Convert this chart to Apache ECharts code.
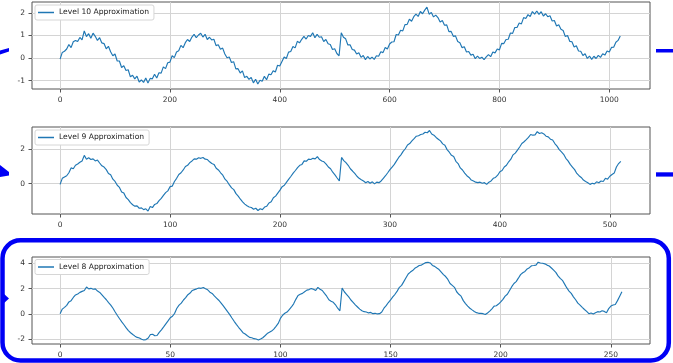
<!DOCTYPE html>
<html>
<head>
<meta charset="utf-8">
<script src="https://cdn.jsdelivr.net/npm/echarts@6/dist/echarts.min.js"></script>
<style>
  html, body { margin: 0; padding: 0; background: #fff; }
  #chart { width: 673px; height: 363px; }
</style>
</head>
<body>
<div id="chart"></div>
<script>
// approximation values (level 10 every 4th sample, level 9 every 2nd, level 8 every sample)
const level10 = [
  -0.05,0.25,0.30,0.40,0.60,0.46,0.72,0.78,0.73,0.91,0.80,1.20,0.95,1.08,0.88,1.10,0.96,0.78,0.90,0.67,
  0.64,0.41,0.52,0.28,0.10,0.18,-0.13,-0.13,-0.42,-0.34,-0.55,-0.52,-0.83,-0.76,-0.92,-0.80,-1.06,-0.97,-1.08,-0.88,
  -1.11,-0.90,-0.92,-0.72,-0.88,-0.65,-0.67,-0.39,-0.47,-0.21,-0.18,0.10,0.02,0.27,0.32,0.56,0.46,0.68,0.82,0.73,
  0.93,1.05,0.90,1.02,1.10,0.93,1.05,0.82,0.92,0.80,0.83,0.55,0.59,0.39,0.44,0.18,0.01,0.05,-0.20,-0.16,
  -0.48,-0.47,-0.66,-0.57,-0.86,-0.81,-0.94,-0.86,-1.10,-0.94,-1.15,-0.98,-1.03,-0.81,-0.96,-0.71,-0.74,-0.56,-0.62,-0.32,
  -0.35,-0.15,0.05,-0.02,0.26,0.29,0.51,0.45,0.74,0.67,0.83,0.96,0.84,1.00,0.96,1.12,0.90,1.05,0.92,0.94,
  0.73,0.82,0.63,0.60,0.38,0.41,0.20,0.10,
  1.12,0.92,0.85,0.58,0.59,0.38,0.35,0.18,0.23,0.03,0.11,-0.07,0.07,-0.04,0.04,-0.06,0.10,0.08,0.28,0.24,
  0.47,0.40,0.62,0.71,0.72,1.04,1.02,1.23,1.20,1.48,1.49,1.72,1.63,1.83,1.94,1.84,2.06,1.96,2.12,2.25,
  1.94,2.02,1.82,1.90,1.79,1.59,1.66,1.45,1.47,1.17,1.18,0.96,0.98,0.73,0.68,0.46,0.50,0.27,0.29,0.13,
  0.17,-0.03,0.09,-0.02,0.04,-0.07,0.05,0.15,0.06,0.27,0.23,0.40,0.36,0.65,0.64,0.82,0.83,1.11,1.09,1.35,
  1.35,1.55,1.51,1.79,1.75,1.92,1.84,2.06,1.94,2.08,1.93,2.05,1.86,1.96,1.83,1.87,1.64,1.66,1.42,1.47,
  1.27,1.22,0.95,1.00,0.74,0.72,0.49,0.54,0.31,0.30,0.11,0.19,-0.02,0.09,-0.06,0.08,-0.02,0.12,0.03,0.19,
  0.13,0.31,0.27,0.47,0.48,0.70,0.78,0.98
];
const level9 = [
  -0.05,0.30,0.38,0.45,0.62,0.90,0.85,1.05,1.12,1.22,1.30,1.62,1.40,1.48,1.38,1.42,1.30,1.35,1.18,1.02,
  0.95,0.80,0.58,0.50,0.25,0.12,-0.10,-0.22,-0.48,-0.55,-0.80,-0.92,-1.10,-1.22,-1.30,-1.28,-1.42,-1.40,-1.50,-1.45,
  -1.58,-1.32,-1.38,-1.20,-1.15,-0.98,-0.85,-0.68,-0.52,-0.42,-0.18,-0.15,0.12,0.30,0.52,0.62,0.78,0.98,1.05,1.20,
  1.30,1.42,1.40,1.48,1.45,1.50,1.40,1.38,1.25,1.15,1.10,0.88,0.78,0.62,0.48,0.25,0.12,-0.08,-0.25,-0.35,
  -0.58,-0.72,-0.90,-1.05,-1.18,-1.28,-1.35,-1.38,-1.48,-1.42,-1.55,-1.45,-1.50,-1.35,-1.30,-1.12,-1.05,-0.82,-0.72,-0.55,
  -0.38,-0.18,-0.10,0.08,0.25,0.42,0.60,0.75,0.92,1.05,1.10,1.30,1.28,1.40,1.38,1.45,1.42,1.55,1.38,1.30,
  1.25,1.12,0.95,0.85,0.65,0.50,0.32,0.15,
  1.50,1.32,1.20,1.05,0.85,0.72,0.58,0.42,0.30,0.22,0.15,0.05,0.12,0.02,0.10,-0.02,0.08,0.05,0.15,0.30,
  0.45,0.62,0.80,0.95,1.10,1.30,1.50,1.65,1.85,2.00,2.22,2.30,2.45,2.58,2.72,2.75,2.82,2.85,2.95,2.92,
  3.05,2.85,2.78,2.65,2.55,2.45,2.28,2.20,1.95,1.80,1.62,1.55,1.28,1.15,0.90,0.78,0.60,0.45,0.35,0.20,
  0.15,0.08,0.05,0.08,0.02,0.05,-0.05,0.08,0.15,0.30,0.35,0.48,0.68,0.75,0.95,1.05,1.25,1.40,1.65,1.75,
  1.92,2.10,2.30,2.40,2.52,2.65,2.82,2.78,2.80,2.98,2.88,2.92,2.85,2.72,2.68,2.55,2.50,2.30,2.15,1.95,
  1.82,1.68,1.45,1.30,1.10,0.95,0.80,0.58,0.45,0.35,0.20,0.12,0.05,-0.05,0.02,-0.02,0.10,0.05,0.15,0.12,
  0.30,0.25,0.42,0.52,0.60,0.95,1.15,1.28
];
const level8 = [
  0.02,0.38,0.52,0.68,0.95,1.05,1.30,1.50,1.58,1.70,1.78,1.85,2.12,1.98,2.02,1.95,1.98,1.80,1.70,1.50,
  1.30,1.12,0.90,0.70,0.45,0.15,-0.12,-0.38,-0.62,-0.85,-1.10,-1.32,-1.48,-1.62,-1.75,-1.85,-1.90,-2.00,-2.05,-2.02,
  -1.90,-1.62,-1.60,-1.72,-1.70,-1.45,-1.25,-1.02,-0.78,-0.55,-0.30,-0.18,0.05,0.45,0.70,0.85,1.10,1.28,1.52,1.65,
  1.85,1.92,1.98,2.05,2.02,2.08,1.98,1.90,1.72,1.62,1.42,1.25,1.08,0.88,0.65,0.42,0.18,-0.05,-0.32,-0.58,
  -0.82,-1.05,-1.25,-1.48,-1.58,-1.72,-1.85,-1.88,-1.95,-1.98,-2.05,-1.98,-1.88,-1.72,-1.55,-1.45,-1.35,-1.20,-0.98,-0.75,
  -0.35,-0.10,0.05,0.15,0.35,0.55,0.80,1.15,1.45,1.55,1.62,1.75,1.88,1.92,2.00,1.95,1.85,2.10,1.95,1.85,
  1.62,1.40,1.12,1.00,0.92,0.72,0.45,0.25,
  2.05,1.75,1.55,1.35,1.10,0.92,0.72,0.55,0.38,0.25,0.18,0.15,0.08,0.12,0.02,0.05,0.00,0.02,0.15,0.45,
  0.65,0.90,1.10,1.35,1.55,1.80,2.10,2.25,2.55,2.85,3.15,3.30,3.42,3.60,3.70,3.82,3.85,3.95,4.05,4.08,
  4.02,3.82,3.75,3.62,3.50,3.30,3.10,2.95,2.72,2.40,2.25,2.10,1.75,1.55,1.40,1.05,0.82,0.62,0.45,0.32,
  0.20,0.10,0.05,0.05,0.02,-0.05,0.08,0.22,0.40,0.62,0.65,0.78,0.95,1.15,1.40,1.55,1.85,2.15,2.40,2.55,
  2.82,3.10,3.25,3.35,3.55,3.65,3.80,3.82,3.85,4.08,4.02,4.00,3.95,3.85,3.78,3.62,3.45,3.28,3.00,2.80,
  2.65,2.35,2.05,1.80,1.62,1.35,1.12,0.85,0.70,0.52,0.35,0.20,0.02,0.08,0.00,0.10,0.18,0.15,0.25,0.20,
  0.10,0.42,0.62,0.70,0.75,1.05,1.40,1.75
];

const seriesNames = ['Level 10 Approximation', 'Level 9 Approximation', 'Level 8 Approximation'];
const seriesValues = [level10, level9, level8];
const sampleSteps = [4, 2, 1];
const xTicks = [[0, 200, 400, 600, 800, 1000], [0, 100, 200, 300, 400, 500], [0, 50, 100, 150, 200, 250]];
const yTicks = [[-1, 0, 1, 2], [0, 2], [-2, 0, 2, 4]];
const xRanges = [[-51.15, 1074.15], [-25.55, 536.55], [-12.75, 267.75]];
const yRanges = [[-1.37, 2.48], [-1.75, 3.25], [-2.37, 4.49]];

const xSteps = [200, 100, 50];
const ySteps = [1, 2, 2];
const ySplits = [4, 3, 4];
const gridTops = [2, 127, 257];
const legendTops = [5, 130, 259.5];

const FONT = 'DejaVu Sans';
const LINE = '#1f77b4';
const BLUE = '#0000f5';

const chart = echarts.init(document.getElementById('chart'), null, { renderer: 'canvas' });

const grids = gridTops.map((top) => ({
  left: 32, top: top, width: 618, height: 87,
  show: true, borderColor: '#555', borderWidth: 1, backgroundColor: 'transparent'
}));

const plainNumber = (v) => String(v);

const xAxes = xTicks.map((ticks, i) => ({
  type: 'value',
  gridIndex: i,
  min: xRanges[i][0],
  max: xRanges[i][1],
  splitNumber: 5,
  minInterval: xSteps[i],
  maxInterval: xSteps[i],
  axisLine: { show: false, onZero: false },
  axisTick: { show: true, length: 3.5, customValues: ticks, lineStyle: { color: '#555' } },
  axisLabel: { customValues: ticks, formatter: plainNumber, margin: 7, fontFamily: FONT, fontSize: 7.5, color: '#333' },
  splitLine: { show: true, lineStyle: { color: '#d4d4d4', width: 1 } }
}));

const yAxes = yTicks.map((ticks, i) => ({
  type: 'value',
  gridIndex: i,
  min: yRanges[i][0],
  max: yRanges[i][1],
  splitNumber: ySplits[i],
  minInterval: ySteps[i],
  maxInterval: ySteps[i],
  axisLine: { show: false, onZero: false },
  axisTick: { show: true, length: 3.5, customValues: ticks, lineStyle: { color: '#555' } },
  axisLabel: { customValues: ticks, formatter: plainNumber, margin: 7, fontFamily: FONT, fontSize: 7.5, color: '#333' },
  splitLine: { show: true, lineStyle: { color: '#d4d4d4', width: 1 } }
}));

const legends = seriesNames.map((name, i) => ({
  data: [name],
  left: 35,
  top: legendTops[i],
  icon: 'rect',
  itemWidth: 16,
  itemHeight: 1.5,
  padding: [3, 5, 3, 3],
  backgroundColor: '#fff',
  borderColor: '#d6d6d6',
  borderWidth: 1,
  borderRadius: 2,
  textStyle: { fontFamily: FONT, fontSize: 7.6, color: '#222', lineHeight: 9 }
}));

const series = seriesValues.map((vals, i) => ({
  name: seriesNames[i],
  type: 'line',
  xAxisIndex: i,
  yAxisIndex: i,
  symbol: 'none',
  data: vals.map((v, k) => [k * sampleSteps[i], v]),
  lineStyle: { color: LINE, width: 1.15 },
  itemStyle: { color: LINE }
}));

chart.setOption({
  animation: false,
  backgroundColor: '#fff',
  grid: grids,
  xAxis: xAxes,
  yAxis: yAxes,
  legend: legends,
  series: series,
  graphic: [
    { type: 'rect', z: 100, shape: { x: 2.5, y: 240.3, width: 666.3, height: 120.2, r: 18 },
      style: { fill: 'none', stroke: BLUE, lineWidth: 4.5 } },
    { type: 'polygon', z: 100, shape: { points: [[3, 293], [9, 298.5], [3, 304]] }, style: { fill: BLUE } },
    { type: 'polygon', z: 100, shape: { points: [[0, 50.5], [9, 48], [9, 51.5], [0, 54.5]] }, style: { fill: BLUE } },
    { type: 'polygon', z: 100, shape: { points: [[0, 165], [9, 172], [9, 175.5], [0, 177]] }, style: { fill: BLUE } },
    { type: 'rect', z: 100, shape: { x: 656, y: 49, width: 17, height: 3.5 }, style: { fill: BLUE } },
    { type: 'rect', z: 100, shape: { x: 656, y: 172.3, width: 17, height: 4.3 }, style: { fill: BLUE } }
  ]
});
</script>
</body>
</html>
